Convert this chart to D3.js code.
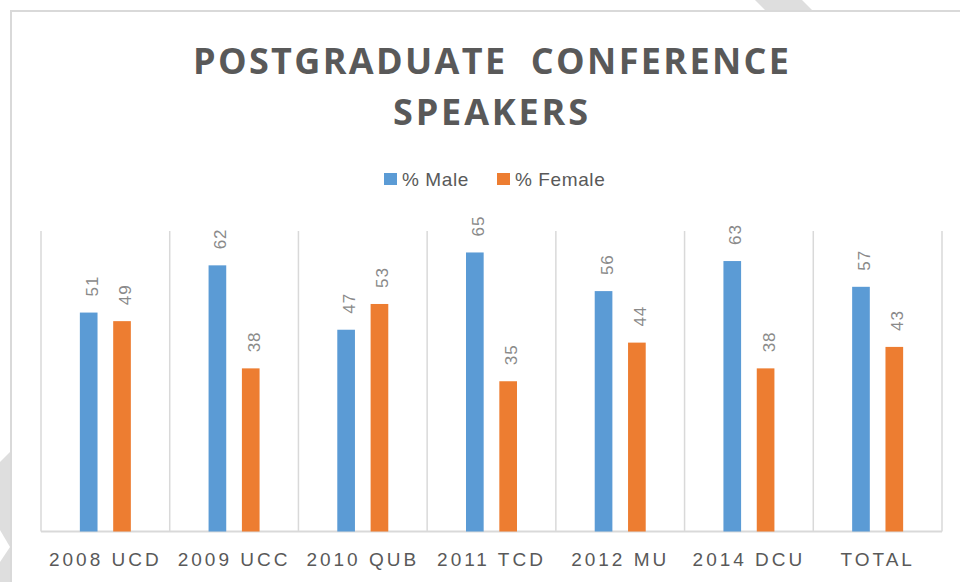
<!DOCTYPE html>
<html>
<head>
<meta charset="utf-8">
<script src="https://cdn.jsdelivr.net/npm/d3@7"></script>
<style>
  html, body { margin: 0; padding: 0; background: #fff; }
  svg { display: block; }
</style>
</head>
<body>
<svg id="chart" width="960" height="582"></svg>
<script>
// data
const CATEGORIES = ["2008 UCD", "2009 UCC", "2010 QUB", "2011 TCD", "2012 MU", "2014 DCU", "TOTAL"];
const SERIES = ["% Male", "% Female"];
const MALE = [51, 62, 47, 65, 56, 63, 57];
const FEMALE = [49, 38, 53, 35, 44, 38, 43];
const Y_MAX = 70;

const COLORS = { "% Male": "#5b9bd5", "% Female": "#ed7d31" };
const GRID = "#d9d9d9";

const svg = d3.select("#chart");
const W = 960, H = 582;
const margin = { top: 231, right: 18, bottom: 50.5, left: 41 };

// faint background shapes outside the frame
svg.append("polygon").attr("points", "755,0 802,0 813,11 766,11").attr("fill", "#dedede");
svg.append("polygon").attr("points", "0,462 10,452 10,582 0,582").attr("fill", "#dedede");
svg.append("polygon").attr("points", "0,530 10,547 0,562").attr("fill", "#fff");

// chart frame
svg.append("rect")
  .attr("x", 11).attr("y", 11)
  .attr("width", 1000).attr("height", 1000)
  .attr("fill", "#fff")
  .attr("stroke", GRID).attr("stroke-width", 2);

// title
const title = svg.append("g")
  .attr("font-family", "'Open Sans', sans-serif")
  .attr("font-weight", 700)
  .attr("fill", "#595959")
  .attr("font-size", 36);
title.append("text").attr("x", 193).attr("y", 74)
  .attr("textLength", 596).attr("lengthAdjust", "spacing")
  .style("white-space", "pre")
  .text("POSTGRADUATE  CONFERENCE");
title.append("text").attr("x", 393).attr("y", 125)
  .attr("textLength", 195).attr("lengthAdjust", "spacing")
  .text("SPEAKERS");

// legend
const legend = svg.append("g")
  .attr("font-family", "'Liberation Sans', Arial, sans-serif")
  .attr("font-size", 19)
  .attr("fill", "#595959");
const legendX = [384, 497];
SERIES.forEach((s, i) => {
  legend.append("rect")
    .attr("x", legendX[i]).attr("y", 173)
    .attr("width", 13).attr("height", 12)
    .attr("fill", COLORS[s]);
  legend.append("text")
    .attr("x", legendX[i] + 18).attr("y", 186)
    .attr("letter-spacing", 0.6)
    .text(s);
});

// scales
const x0 = d3.scaleBand()
  .domain(CATEGORIES)
  .range([margin.left, W - margin.right])
  .padding(0);

const bw = x0.bandwidth();
const x1 = d3.scaleBand()
  .domain(SERIES)
  .range([bw / 2 - 25.5, bw / 2 + 25.5])
  .paddingInner(0.47);

const y = d3.scaleLinear()
  .domain([0, Y_MAX])
  .range([H - margin.bottom, margin.top]);

// vertical category separators
const g = svg.append("g");
const bounds = CATEGORIES.map(c => x0(c)).concat([x0(CATEGORIES[CATEGORIES.length - 1]) + bw]);
g.selectAll("line.sep")
  .data(bounds)
  .enter().append("line")
  .attr("class", "sep")
  .attr("x1", d => d).attr("x2", d => d)
  .attr("y1", y(Y_MAX)).attr("y2", y(0))
  .attr("stroke", GRID).attr("stroke-width", 1.5);

// baseline axis
g.append("line")
  .attr("x1", x0.range()[0]).attr("x2", x0.range()[1])
  .attr("y1", y(0)).attr("y2", y(0))
  .attr("stroke", GRID).attr("stroke-width", 2);

const rows = CATEGORIES.map((c, i) => ({ cat: c, vals: [
  { s: "% Male", v: MALE[i] },
  { s: "% Female", v: FEMALE[i] }
]}));

const groups = g.selectAll("g.cat")
  .data(rows)
  .enter().append("g")
  .attr("class", "cat")
  .attr("transform", d => `translate(${x0(d.cat)},0)`);

groups.selectAll("rect")
  .data(d => d.vals)
  .enter().append("rect")
  .attr("x", d => x1(d.s))
  .attr("y", d => y(d.v))
  .attr("width", x1.bandwidth())
  .attr("height", d => y(0) - y(d.v))
  .attr("fill", d => COLORS[d.s]);

// value labels, rotated
groups.selectAll("text.val")
  .data(d => d.vals)
  .enter().append("text")
  .attr("class", "val")
  .attr("transform", d => `translate(${x1(d.s) + x1.bandwidth() / 2 + 3},${y(d.v) - 16}) rotate(-90)`)
  .attr("font-family", "'Liberation Sans', Arial, sans-serif")
  .attr("font-size", 17)
  .attr("letter-spacing", 1)
  .attr("fill", "#8a8a8a")
  .attr("dy", "0.35em")
  .text(d => d.v);

// category labels
svg.append("g")
  .selectAll("text")
  .data(CATEGORIES)
  .enter().append("text")
  .attr("x", d => x0(d) + bw / 2)
  .attr("y", 566)
  .attr("text-anchor", "middle")
  .attr("font-family", "'Liberation Sans', Arial, sans-serif")
  .attr("font-size", 19)
  .attr("letter-spacing", 3)
  .attr("fill", "#595959")
  .text(d => d);
</script>
</body>
</html>
